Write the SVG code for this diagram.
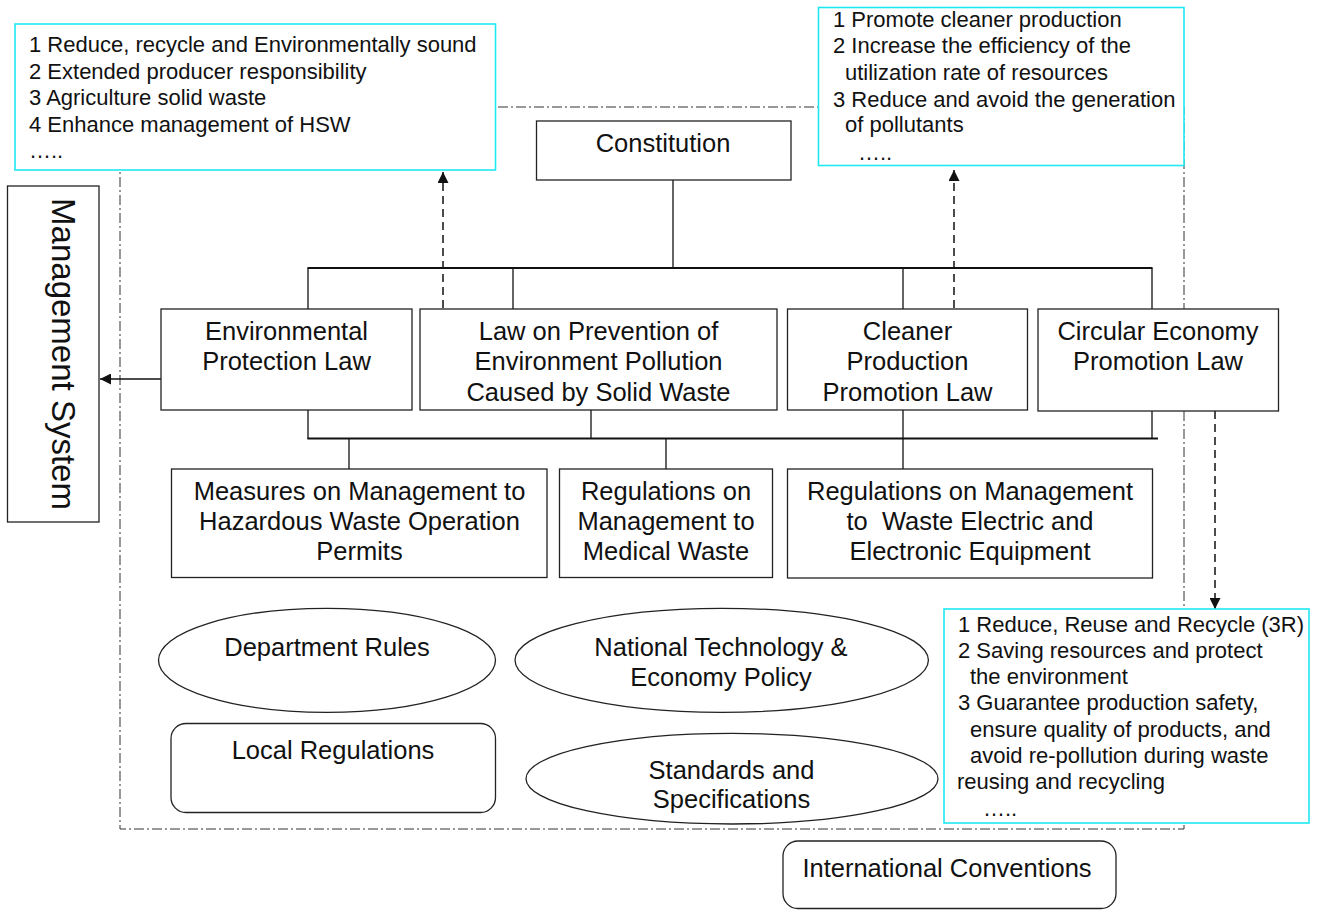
<svg xmlns="http://www.w3.org/2000/svg" width="1317" height="910" viewBox="0 0 1317 910">
<defs>
<style>
text{font-family:"Liberation Sans",Arial,sans-serif;fill:#111}
.lbl{font-size:25.5px;text-anchor:middle}
.note{font-size:22px}
.box{fill:#fff;stroke:#222;stroke-width:1.3}
.cyan{fill:#fff;stroke:#1ee9f2;stroke-width:1.6}
.frame{fill:none;stroke:#333;stroke-width:1;stroke-dasharray:10 3 2 3}
.bus{stroke:#111;stroke-width:2.2;fill:none}
.tie{stroke:#111;stroke-width:1.3;fill:none}
.dash{stroke:#111;stroke-width:1.5;stroke-dasharray:8 5;fill:none}
</style>
<marker id="ah" viewBox="0 0 10 10" refX="10" refY="5" markerWidth="11" markerHeight="11" markerUnits="userSpaceOnUse" orient="auto">
<path d="M0,0 L10,5 L0,10 z" fill="#111" stroke="none"/>
</marker>
</defs>
<rect width="1317" height="910" fill="#fff"/>
<rect id="frame" class="frame" x="120" y="107" width="1064" height="722"/>

<g id="connectors">
<line class="tie" x1="673" y1="180" x2="673" y2="268"/>
<line class="bus" x1="307.5" y1="268" x2="1152.5" y2="268"/>
<line class="tie" x1="308" y1="268" x2="308" y2="309"/>
<line class="tie" x1="513" y1="268" x2="513" y2="309"/>
<line class="tie" x1="903" y1="268" x2="903" y2="309"/>
<line class="tie" x1="1152" y1="268" x2="1152" y2="309"/>
<line class="tie" x1="308" y1="410" x2="308" y2="439"/>
<line class="tie" x1="591" y1="410" x2="591" y2="439"/>
<line class="tie" x1="903" y1="410" x2="903" y2="469"/>
<line class="tie" x1="1152" y1="411" x2="1152" y2="439"/>
<line class="bus" x1="307.5" y1="438.5" x2="1158" y2="438.5"/>
<line class="tie" x1="349" y1="439" x2="349" y2="469"/>
<line class="tie" x1="666" y1="439" x2="666" y2="469"/>
<line class="tie" x1="161" y1="379" x2="100" y2="379" marker-end="url(#ah)"/>
<line class="dash" x1="443" y1="308" x2="443" y2="172" marker-end="url(#ah)"/>
<line class="dash" x1="954" y1="308" x2="954" y2="170" marker-end="url(#ah)"/>
<line class="dash" x1="1215" y1="411" x2="1215" y2="609" marker-end="url(#ah)"/>
</g>

<g id="note-swl">
<rect class="cyan" x="15" y="24" width="480.5" height="146"/>
<text class="note" x="29" y="52">1 Reduce, recycle and Environmentally sound</text>
<text class="note" x="29" y="79">2 Extended producer responsibility</text>
<text class="note" x="29" y="105">3 Agriculture solid waste</text>
<text class="note" x="29" y="132">4 Enhance management of HSW</text>
<text class="note" x="29" y="158">…..</text>
</g>

<g id="note-cpl">
<rect class="cyan" x="818.5" y="7.5" width="365.5" height="158"/>
<text class="note" x="833" y="27">1 Promote cleaner production</text>
<text class="note" x="833" y="53">2 Increase the efficiency of the</text>
<text class="note" x="845" y="80">utilization rate of resources</text>
<text class="note" x="833" y="107">3 Reduce and avoid the generation</text>
<text class="note" x="845" y="132">of pollutants</text>
<text class="note" x="858" y="160">…..</text>
</g>

<g id="management-system">
<rect class="box" x="7.5" y="186" width="91.5" height="336"/>
<text transform="translate(52,354) rotate(90)" text-anchor="middle" font-size="33">Management System</text>
</g>

<g id="constitution">
<rect class="box" x="536.5" y="121" width="254.5" height="59"/>
<text class="lbl" x="663" y="152">Constitution</text>
</g>

<g id="env-protection-law">
<rect class="box" x="161" y="309" width="251" height="101"/>
<text class="lbl" x="286.5" y="340">Environmental</text>
<text class="lbl" x="286.5" y="370">Protection Law</text>
</g>

<g id="solid-waste-law">
<rect class="box" x="420" y="309" width="357" height="101"/>
<text class="lbl" x="598.5" y="340">Law on Prevention of</text>
<text class="lbl" x="598.5" y="370">Environment Pollution</text>
<text class="lbl" x="598.5" y="401">Caused by Solid Waste</text>
</g>

<g id="cleaner-production-law">
<rect class="box" x="787.5" y="309" width="240" height="101"/>
<text class="lbl" x="907.5" y="340">Cleaner</text>
<text class="lbl" x="907.5" y="370">Production</text>
<text class="lbl" x="907.5" y="401">Promotion Law</text>
</g>

<g id="circular-economy-law">
<rect class="box" x="1038" y="309" width="240.5" height="102"/>
<text class="lbl" x="1158" y="340">Circular Economy</text>
<text class="lbl" x="1158" y="370">Promotion Law</text>
</g>

<g id="hazardous-waste-measures">
<rect class="box" x="171.5" y="469" width="375.5" height="108.5"/>
<text class="lbl" x="359.5" y="500">Measures on Management to</text>
<text class="lbl" x="359.5" y="530">Hazardous Waste Operation</text>
<text class="lbl" x="359.5" y="560">Permits</text>
</g>

<g id="medical-waste-regulations">
<rect class="box" x="559.5" y="469" width="213" height="108.5"/>
<text class="lbl" x="666" y="500">Regulations on</text>
<text class="lbl" x="666" y="530">Management to</text>
<text class="lbl" x="666" y="560">Medical Waste</text>
</g>

<g id="weee-regulations">
<rect class="box" x="787.5" y="469" width="365" height="109"/>
<text class="lbl" x="970" y="500">Regulations on Management</text>
<text class="lbl" x="970" y="530" xml:space="preserve">to  Waste Electric and</text>
<text class="lbl" x="970" y="560">Electronic Equipment</text>
</g>

<g id="department-rules">
<ellipse class="box" cx="327" cy="660.3" rx="168.5" ry="52"/>
<text class="lbl" x="327" y="656">Department Rules</text>
</g>

<g id="national-policy">
<ellipse class="box" cx="721.7" cy="660.3" rx="206.7" ry="52"/>
<text class="lbl" x="721" y="656">National Technology &amp;</text>
<text class="lbl" x="721" y="686">Economy Policy</text>
</g>

<g id="local-regulations">
<rect class="box" x="171" y="723.5" width="324.5" height="89" rx="15"/>
<text class="lbl" x="333" y="759">Local Regulations</text>
</g>

<g id="standards">
<ellipse class="box" cx="732" cy="778.7" rx="206" ry="45.3"/>
<text class="lbl" x="731.5" y="779">Standards and</text>
<text class="lbl" x="731.5" y="808">Specifications</text>
</g>

<g id="note-cepl">
<rect class="cyan" x="944" y="609" width="365" height="214"/>
<text class="note" x="958" y="632">1 Reduce, Reuse and Recycle (3R)</text>
<text class="note" x="958" y="658">2 Saving resources and protect</text>
<text class="note" x="970" y="684">the environment</text>
<text class="note" x="958" y="710">3 Guarantee production safety,</text>
<text class="note" x="970" y="737">ensure quality of products, and</text>
<text class="note" x="970" y="763">avoid re-pollution during waste</text>
<text class="note" x="957" y="789">reusing and recycling</text>
<text class="note" x="983" y="816">…..</text>
</g>

<g id="international-conventions">
<rect class="box" x="783" y="841" width="333" height="67.5" rx="15"/>
<text class="lbl" x="947" y="877">International Conventions</text>
</g>
</svg>
